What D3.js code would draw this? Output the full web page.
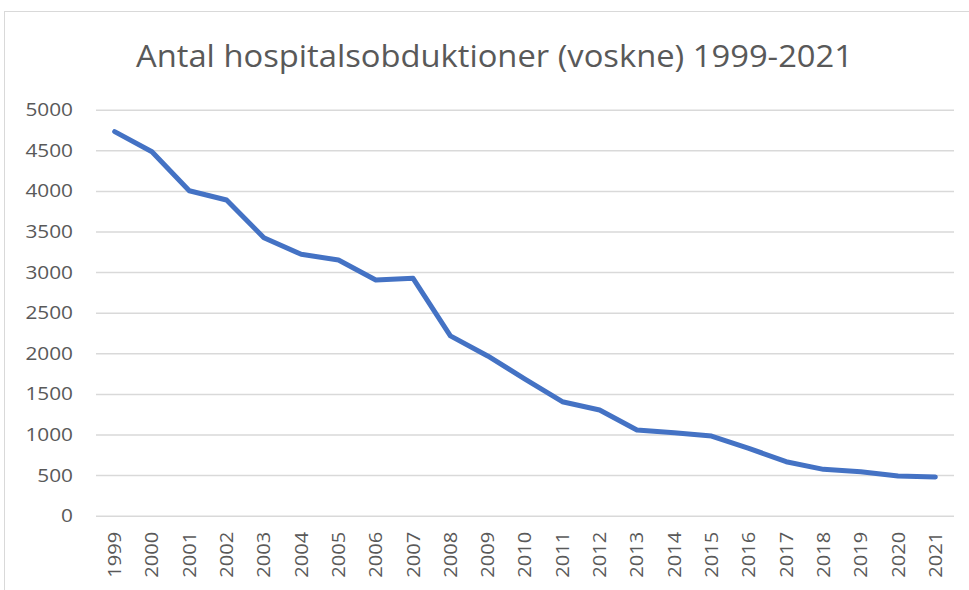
<!DOCTYPE html>
<html>
<head>
<meta charset="utf-8">
<script src="https://cdn.jsdelivr.net/npm/d3@7"></script>
<style>
  html, body { margin: 0; padding: 0; background: #fff; }
  svg { display: block; }
</style>
</head>
<body>
<svg id="chart" width="969" height="590"></svg>
<script>
// Annual hospital autopsies (adults), 1999–2021
const years = ["1999","2000","2001","2002","2003","2004","2005","2006","2007","2008","2009","2010",
               "2011","2012","2013","2014","2015","2016","2017","2018","2019","2020","2021"];
const autopsies = [4730, 4483, 4002, 3888, 3424, 3219, 3149, 2903, 2924, 2214, 1967, 1683,
                   1404, 1302, 1055, 1022, 981, 830, 665, 571, 542, 489, 477];
const yTicks = [0, 500, 1000, 1500, 2000, 2500, 3000, 3500, 4000, 4500, 5000];
const title = "Antal hospitalsobduktioner (voskne) 1999-2021";

const W = 969, H = 590;
const plot = { left: 96, right: 954, top: 109.7, bottom: 515.7 };
const textColor = "#595959";
const gridColor = "#D9D9D9";
const fontStack = "'Open Sans', 'Noto Sans', 'Liberation Sans', sans-serif";
const digitWidth = 11.9;   // per-character advance of the axis labels

const svg = d3.select("#chart");

// chart frame
svg.append("rect")
  .attr("x", 4.5).attr("y", 11.5)
  .attr("width", W + 10).attr("height", H - 6)
  .attr("fill", "#fff")
  .attr("stroke", gridColor).attr("stroke-width", 1);

const x = d3.scaleBand().domain(years).range([plot.left, plot.right]);
const y = d3.scaleLinear().domain([0, 5000]).range([plot.bottom, plot.top]);

// title
svg.append("text")
  .attr("x", (136 + 853) / 2).attr("y", 67)
  .attr("text-anchor", "middle")
  .attr("fill", textColor)
  .attr("font-family", fontStack)
  .attr("font-weight", 400)
  .attr("font-size", 31)
  .attr("textLength", 717).attr("lengthAdjust", "spacingAndGlyphs")
  .text(title);

// horizontal gridlines + y labels
const yAxis = d3.axisLeft(y)
  .tickValues(yTicks)
  .tickFormat(d3.format("d"))
  .tickSize(-(plot.right - plot.left))
  .tickPadding(23);
const gy = svg.append("g").attr("transform", `translate(${plot.left},0)`).call(yAxis);
gy.select(".domain").remove();
gy.selectAll(".tick line").attr("stroke", gridColor).attr("stroke-width", 1.5);
gy.selectAll(".tick text")
  .attr("fill", textColor)
  .attr("font-family", fontStack)
  .attr("font-size", 18.5)
  .attr("textLength", d => String(d).length * digitWidth)
  .attr("lengthAdjust", "spacingAndGlyphs");

// x axis: rotated year labels
const xAxis = d3.axisBottom(x).tickSize(0).tickPadding(0);
const gx = svg.append("g").attr("transform", `translate(0,${plot.bottom})`).call(xAxis);
gx.select(".domain").remove();
gx.selectAll(".tick text")
  .attr("fill", textColor)
  .attr("font-family", fontStack)
  .attr("font-size", 18.5)
  .attr("text-anchor", "end")
  .attr("dy", "0.35em")
  .attr("textLength", 46)
  .attr("lengthAdjust", "spacingAndGlyphs")
  .attr("transform", "translate(0,16) rotate(-90)");

// series line
const line = d3.line()
  .x((d, i) => x(years[i]) + x.bandwidth() / 2)
  .y(d => y(d));

svg.append("path")
  .datum(autopsies)
  .attr("fill", "none")
  .attr("stroke", "#4472C4")
  .attr("stroke-width", 5)
  .attr("stroke-linejoin", "round")
  .attr("stroke-linecap", "round")
  .attr("d", line);
</script>
</body>
</html>
